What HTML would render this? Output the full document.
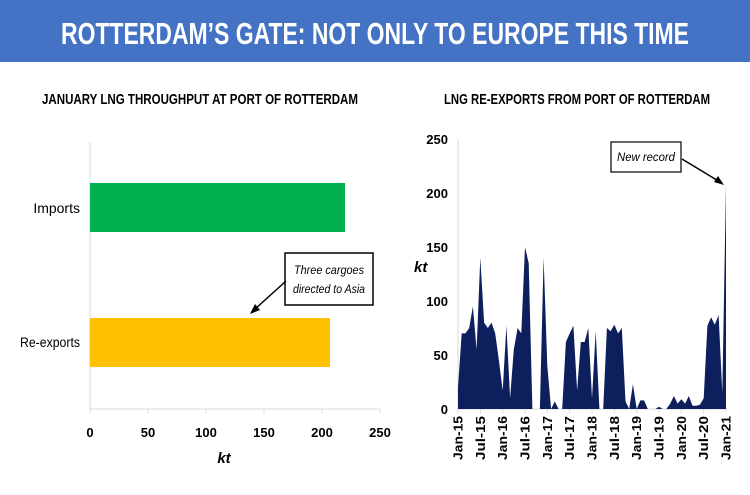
<!DOCTYPE html>
<html><head><meta charset="utf-8"><style>
body{margin:0;width:750px;height:490px;background:#fff;overflow:hidden;font-family:"Liberation Sans",sans-serif}
svg text{font-family:"Liberation Sans",sans-serif}
</style></head><body>
<svg width="750" height="490" xmlns="http://www.w3.org/2000/svg">
<rect x="0" y="0" width="750" height="62" fill="#4472C4"/>
<text x="375" y="44" text-anchor="middle" fill="#fff" font-size="31" font-weight="bold" textLength="628" lengthAdjust="spacingAndGlyphs">ROTTERDAM’S GATE: NOT ONLY TO EUROPE THIS TIME</text>
<text x="200" y="104" text-anchor="middle" font-size="15" font-weight="bold" textLength="316" lengthAdjust="spacingAndGlyphs">JANUARY LNG THROUGHPUT AT PORT OF ROTTERDAM</text>
<text x="577" y="104" text-anchor="middle" font-size="15" font-weight="bold" textLength="266" lengthAdjust="spacingAndGlyphs">LNG RE-EXPORTS FROM PORT OF ROTTERDAM</text>
<!-- left chart -->
<line x1="90" y1="142" x2="90" y2="409" stroke="#d9d9d9"/>
<line x1="90" y1="409" x2="380" y2="409" stroke="#d9d9d9"/>
<g stroke="#d9d9d9"><line x1="148" y1="409" x2="148" y2="413"/><line x1="206" y1="409" x2="206" y2="413"/><line x1="264" y1="409" x2="264" y2="413"/><line x1="322" y1="409" x2="322" y2="413"/><line x1="380" y1="409" x2="380" y2="413"/><line x1="90" y1="409" x2="90" y2="413"/></g>
<rect x="90" y="183" width="255" height="49" fill="#00B050"/>
<rect x="90" y="318" width="240" height="49" fill="#FFC000"/>
<g font-size="14" text-anchor="end"><text x="80" y="213">Imports</text><text x="80" y="347" textLength="60" lengthAdjust="spacingAndGlyphs">Re-exports</text></g>
<g font-size="13" font-weight="bold" text-anchor="middle"><text x="90" y="437">0</text><text x="148" y="437">50</text><text x="206" y="437">100</text><text x="264" y="437">150</text><text x="322" y="437">200</text><text x="380" y="437">250</text></g>
<text x="224" y="463" text-anchor="middle" font-size="15" font-weight="bold" font-style="italic">kt</text>
<rect x="285" y="253" width="88" height="52" fill="#fff" stroke="#000" stroke-width="1.5"/>
<g font-size="12" font-style="italic" text-anchor="middle"><text x="329" y="274" textLength="70" lengthAdjust="spacingAndGlyphs">Three cargoes</text><text x="329" y="293" textLength="72" lengthAdjust="spacingAndGlyphs">directed to Asia</text></g>
<line x1="286" y1="281" x2="254" y2="310" stroke="#000" stroke-width="1.5"/>
<polygon points="250,314 255,304 260,310" fill="#000"/>
<!-- right chart -->
<line x1="458" y1="139" x2="458" y2="409" stroke="#d9d9d9"/>
<line x1="458" y1="409" x2="727" y2="409" stroke="#d9d9d9"/>
<g font-size="13" font-weight="bold" text-anchor="end"><text x="448" y="414">0</text><text x="448" y="360">50</text><text x="448" y="306">100</text><text x="448" y="252">150</text><text x="448" y="198">200</text><text x="448" y="144">250</text></g>
<text x="414" y="272" font-size="15" font-weight="bold" font-style="italic">kt</text>
<path id="area" fill="#0D1F5C"/>
<g id="xl" font-size="12.5" font-weight="bold"></g>
<rect x="611" y="142" width="70" height="30" fill="#fff" stroke="#000" stroke-width="1.2"/>
<text x="646" y="161" text-anchor="middle" font-size="12" font-style="italic" textLength="58" lengthAdjust="spacingAndGlyphs">New record</text>
<line x1="682" y1="159" x2="720" y2="182" stroke="#000" stroke-width="1.5"/>
<polygon points="724,185 714,182 718,176" fill="#000"/>
</svg>
<script>
var v=[20,70,70,75,95,55,140,80,75,80,70,45,17,77,10,55,75,70,150,135,0,0,0,140,40,0,7,0,0,62,70,77,17,62,62,75,10,72,0,0,75,72,78,70,75,7,0,23,0,8,8,0,0,0,2,0,0,5,12,5,9,5,12,3,3,4,10,77,85,78,87,15,208];
var x0=458,dx=(726-458)/72,y0=409,k=1.08;
var d="M"+x0+","+y0;
v.forEach(function(a,i){d+=" L"+(x0+i*dx).toFixed(1)+","+(y0-a*k).toFixed(1)});
d+=" L"+(x0+72*dx)+","+y0+" Z";
document.getElementById("area").setAttribute("d",d);
var n=["Jan-15","Jul-15","Jan-16","Jul-16","Jan-17","Jul-17","Jan-18","Jul-18","Jan-19","Jul-19","Jan-20","Jul-20","Jan-21"];
var g=document.getElementById("xl"),s="";
n.forEach(function(t,i){var x=x0+i*6*dx+4.5;s+='<text x="0" y="0" text-anchor="end" textLength="44" lengthAdjust="spacingAndGlyphs" transform="translate('+x.toFixed(1)+',416) rotate(-90)">'+t+'</text>';
s+='<line x1="'+(x-4.5)+'" y1="409" x2="'+(x-4.5)+'" y2="413" stroke="#d9d9d9"/>';});
g.innerHTML=s;
</script>
</body></html>
